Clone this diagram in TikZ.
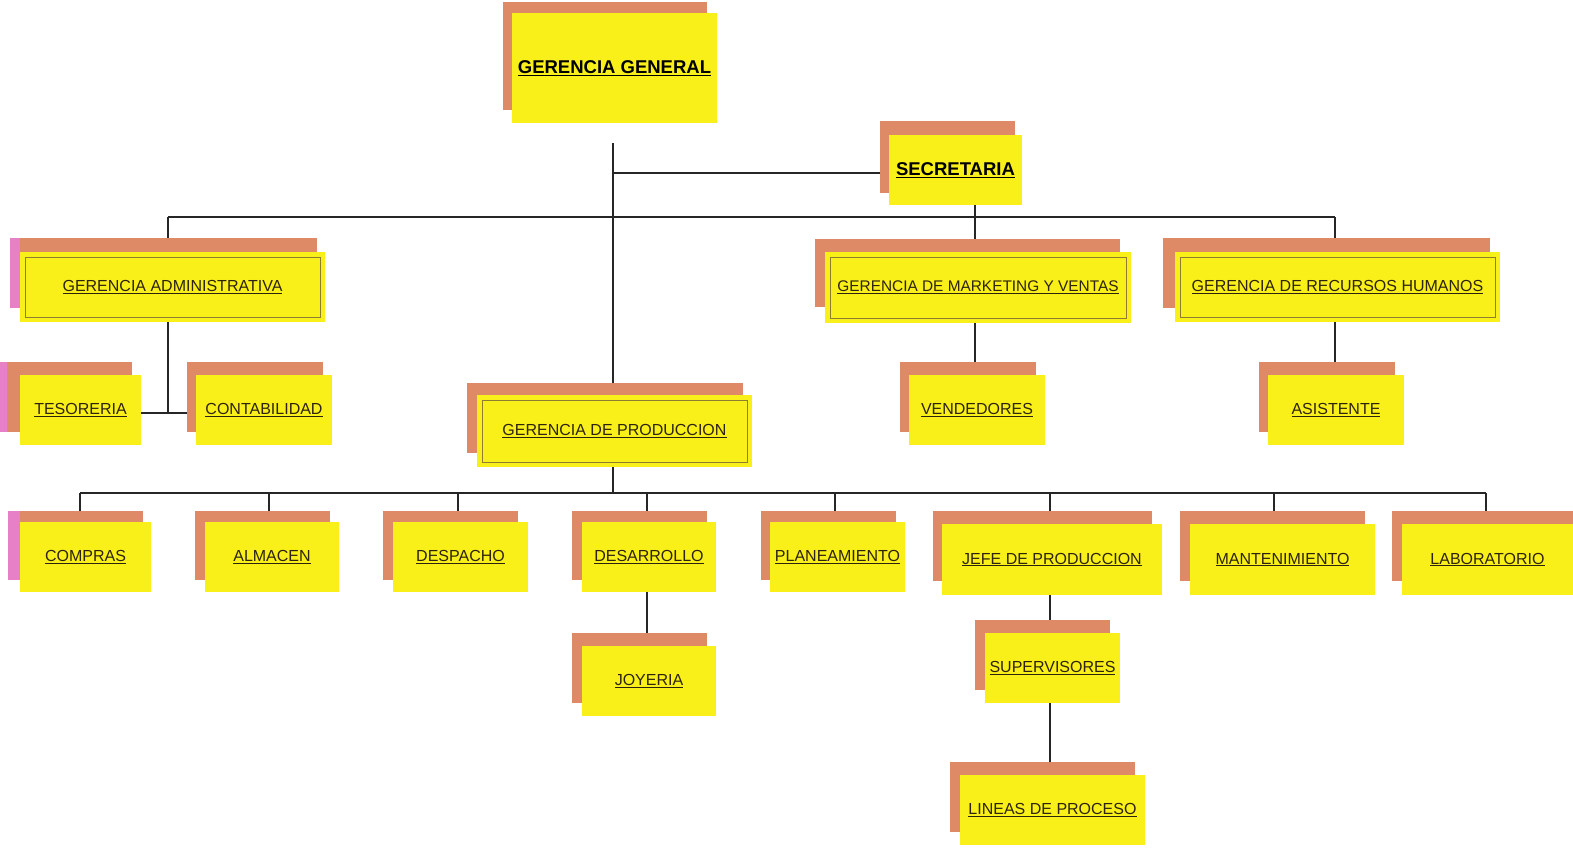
\documentclass[tikz,border=0pt]{standalone}
\usepackage{fontspec}
\setmainfont{Liberation Sans}
\usetikzlibrary{calc}
\definecolor{boxyellow}{RGB}{250,240,25}
\definecolor{boxshadow}{RGB}{222,138,102}
\definecolor{boxpink}{RGB}{232,128,200}
\definecolor{innerline}{RGB}{140,125,50}
\definecolor{txt}{RGB}{45,35,15}
\tikzset{
  shadowbox/.style={fill=boxshadow,draw=none,inner sep=0pt,outer sep=0pt},
  pinkbox/.style={fill=boxpink,draw=none,inner sep=0pt,outer sep=0pt},
  frontbox/.style={fill=boxyellow,draw=none,inner sep=0pt,outer sep=0pt,text=txt,font=\fontsize{16}{19}\selectfont},
  narrowbox/.style={frontbox,font=\fontsize{15.4}{19}\selectfont},
  boldbox/.style={frontbox,font=\bfseries\fontsize{18.5}{22}\selectfont,text=black},
  innerrect/.style={draw=innerline,line width=0.7pt},
  conn/.style={draw=black!85,line width=1.6pt}
}
\newcommand\orgshadow[6][shadowbox]{\node[#1,anchor=north west,minimum width={#5-#3},minimum height={#6-#4}] (#2) at (#3,#4) {};}
\newcommand\orgbox[7][frontbox]{\node[#1,anchor=north west,minimum width={#5-#3},minimum height={#6-#4}] (#2) at (#3,#4) {\underline{#7}};}
\newcommand\orginner[1]{\draw[innerrect] ($(#1.north west)+(5,5)$) rectangle ($(#1.south east)+(-5,-5)$);}
\begin{document}
\begin{tikzpicture}[x=1pt,y=-1pt]
\useasboundingbox[fill=white] (0,0) rectangle (1573,849);
% ---- boxes ----
\orgshadow{ggS}{503}{2}{707}{110}
\orgbox[boldbox]{gg}{512}{13}{717}{123}{GERENCIA GENERAL}
\orgshadow{secS}{880}{121}{1015}{193}
\orgbox[boldbox]{sec}{889}{135}{1022}{205}{SECRETARIA}
\orgshadow[pinkbox]{admP}{10}{238}{20}{308}
\orgshadow{admS}{20}{238}{317}{308}
\orgbox{adm}{20}{252}{325}{322}{GERENCIA ADMINISTRATIVA}
\orginner{adm}
\orgshadow[pinkbox]{tesP}{0}{362}{7}{432}
\orgshadow{tesS}{7}{362}{132}{432}
\orgbox{tes}{20}{375}{141}{445}{TESORERIA}
\orgshadow{conS}{187}{362}{323}{432}
\orgbox{con}{196}{375}{332}{445}{CONTABILIDAD}
\orgshadow{prodS}{467}{383}{743}{453}
\orgbox{prod}{477}{395}{752}{467}{GERENCIA DE PRODUCCION}
\orginner{prod}
\orgshadow{mkS}{815}{239}{1120}{307}
\orgbox[narrowbox]{mk}{825}{252}{1131}{323}{GERENCIA DE MARKETING Y VENTAS}
\orginner{mk}
\orgshadow{rhS}{1163}{238}{1490}{308}
\orgbox{rh}{1175}{252}{1500}{322}{GERENCIA DE RECURSOS HUMANOS}
\orginner{rh}
\orgshadow{venS}{900}{362}{1036}{432}
\orgbox{ven}{909}{375}{1045}{445}{VENDEDORES}
\orgshadow{asiS}{1259}{362}{1395}{432}
\orgbox{asi}{1268}{375}{1404}{445}{ASISTENTE}
\orgshadow[pinkbox]{comP}{8}{511}{20}{580}
\orgshadow{comS}{20}{511}{143}{580}
\orgbox{com}{20}{522}{151}{592}{COMPRAS}
\orgshadow{almS}{195}{511}{330}{580}
\orgbox{alm}{205}{522}{339}{592}{ALMACEN}
\orgshadow{desS}{383}{511}{518}{580}
\orgbox{des}{393}{522}{528}{592}{DESPACHO}
\orgshadow{dsrS}{572}{511}{707}{580}
\orgbox{dsr}{582}{522}{716}{592}{DESARROLLO}
\orgshadow{plaS}{761}{511}{896}{580}
\orgbox{pla}{770}{522}{905}{592}{PLANEAMIENTO}
\orgshadow{jefS}{933}{511}{1152}{581}
\orgbox{jef}{942}{524}{1162}{595}{JEFE DE PRODUCCION}
\orgshadow{manS}{1180}{511}{1365}{581}
\orgbox{man}{1190}{524}{1375}{595}{MANTENIMIENTO}
\orgshadow{labS}{1392}{511}{1573}{581}
\orgbox{lab}{1402}{524}{1573}{595}{LABORATORIO}
\orgshadow{joyS}{572}{633}{707}{703}
\orgbox{joy}{582}{646}{716}{716}{JOYERIA}
\orgshadow{supS}{975}{620}{1110}{690}
\orgbox{sup}{985}{633}{1120}{703}{SUPERVISORES}
\orgshadow{linS}{950}{762}{1135}{832}
\orgbox{lin}{960}{775}{1145}{845}{LINEAS DE PROCESO}
% ---- connectors ----
\coordinate (ggl) at (613,143);
\coordinate (secl) at (613,173);
\coordinate (busL) at (168,217);
\coordinate (busM) at (975,217);
\coordinate (busR) at (1335,217);
\coordinate (admc) at (168,413);
\coordinate (pbus) at (613,493);
\coordinate (pL) at (80,493);
\coordinate (pR) at (1486,493);
\draw[conn] (ggl) -- (ggl |- prodS.north);
\draw[conn] (ggl |- prod.south) -- (pbus);
\draw[conn] (secl) -- (secl -| secS.west);
\draw[conn] (busL) -- (busR);
\draw[conn] (busL) -- (busL |- admS.north);
\draw[conn] (busM |- sec.south) -- (busM |- mkS.north);
\draw[conn] (busR) -- (busR |- rhS.north);
\draw[conn] (busL |- adm.south) -- (admc);
\draw[conn] (admc -| tes.east) -- (admc -| conS.west);
\draw[conn] (busM |- mk.south) -- (busM |- venS.north);
\draw[conn] (busR |- rh.south) -- (busR |- asiS.north);
\draw[conn] (pL) -- (pR);
\foreach \xx/\nn in {80/com,269/alm,458/des,647/dsr,835/pla,1050/jef,1274/man,1486/lab}
  \draw[conn] (\xx,493) -- (\xx,0 |- \nn S.north);
\draw[conn] (647,0 |- dsr.south) -- (647,0 |- joyS.north);
\draw[conn] (1050,0 |- jef.south) -- (1050,0 |- supS.north);
\draw[conn] (1050,0 |- sup.south) -- (1050,0 |- linS.north);
\end{tikzpicture}
\end{document}
